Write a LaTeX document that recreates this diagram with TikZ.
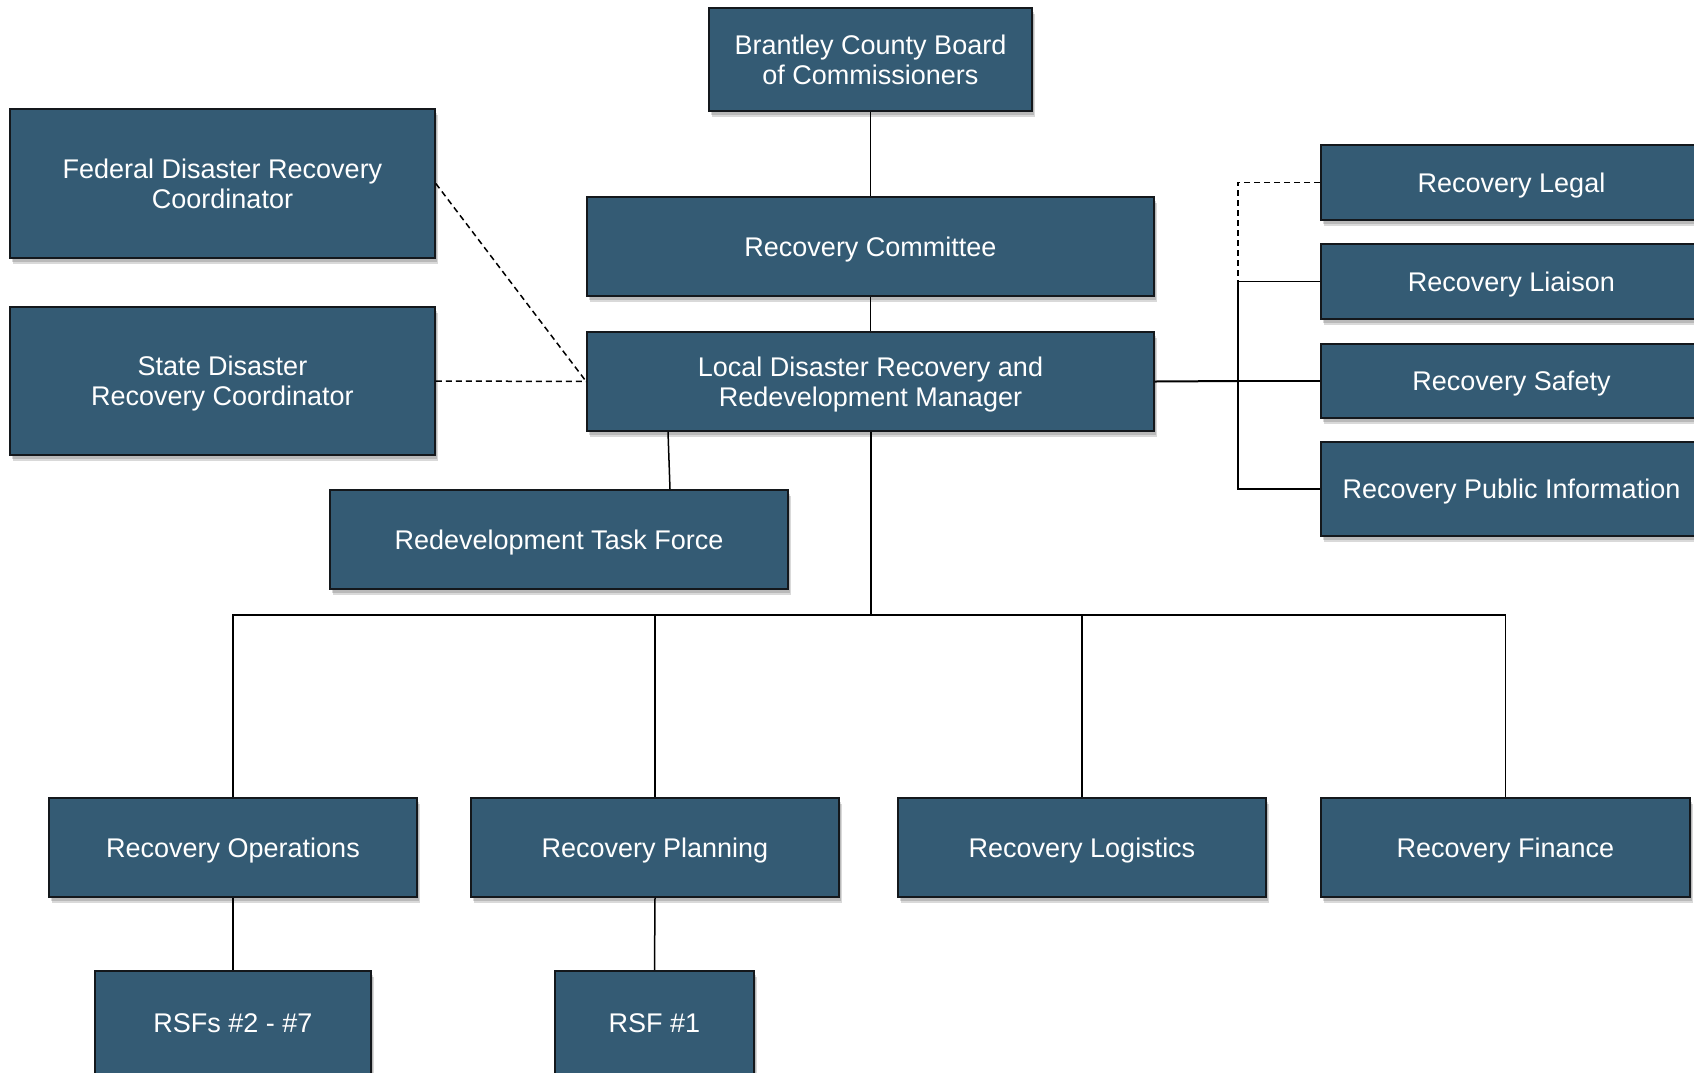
\documentclass[tikz,border=0pt]{standalone}
\usepackage{fontspec}
\setmainfont{Liberation Sans}
\usetikzlibrary{shadows}
\definecolor{boxfill}{RGB}{52,91,116}
\definecolor{boxline}{RGB}{20,24,28}
\begin{document}
\begin{tikzpicture}[x=1pt,y=-1pt,
  orgbox/.style={rectangle, draw=boxline, line width=1.6pt, fill=boxfill,
    text=white, align=center, inner sep=0pt, text depth=0pt,
    font=\fontsize{27}{30}\selectfont,
    drop shadow={shadow xshift=2.5pt, shadow yshift=-6pt, fill=black, opacity=0.15},
    drop shadow={shadow xshift=1.5pt, shadow yshift=-4pt, fill=black, opacity=0.15}},
  link/.style={draw=black, line width=1.5pt},
  dlink/.style={draw=black, line width=1.5pt, dash pattern=on 6pt off 4pt}]
\useasboundingbox (0,0) rectangle (1694,1072);
\clip (0,0) rectangle (1694,1072);
% nodes
\node[orgbox, minimum width=323, minimum height=103] (brant) at (870.5,59.5) {Brantley County Board\\of Commissioners};
\node[orgbox, minimum width=567, minimum height=99] (comm) at (870.5,246.5) {Recovery Committee};
\node[orgbox, minimum width=567, minimum height=99] (local) at (870.5,381.5) {Local Disaster Recovery and\\Redevelopment Manager};
\node[orgbox, minimum width=425, minimum height=149] (fed) at (222.5,183.5) {Federal Disaster Recovery\\Coordinator};
\node[orgbox, minimum width=425, minimum height=148] (state) at (222.5,381) {State Disaster\\Recovery Coordinator};
\node[orgbox, minimum width=458, minimum height=99] (task) at (559,539.5) {Redevelopment Task Force};
\node[orgbox, minimum width=381, minimum height=75] (legal) at (1511.5,182.5) {Recovery Legal};
\node[orgbox, minimum width=381, minimum height=75] (liaison) at (1511.5,281.5) {Recovery Liaison};
\node[orgbox, minimum width=381, minimum height=74] (safety) at (1511.5,381) {Recovery Safety};
\node[orgbox, minimum width=381, minimum height=94] (pubinfo) at (1511.5,489) {Recovery Public Information};
\node[orgbox, minimum width=368, minimum height=99] (ops) at (233,847.5) {Recovery Operations};
\node[orgbox, minimum width=368, minimum height=99] (plan) at (655,847.5) {Recovery Planning};
\node[orgbox, minimum width=368, minimum height=99] (logi) at (1082,847.5) {Recovery Logistics};
\node[orgbox, minimum width=369, minimum height=99] (fin) at (1505.5,847.5) {Recovery Finance};
\node[orgbox, minimum width=276, minimum height=104] (rsfs) at (233,1023) {RSFs \#2 - \#7};
\node[orgbox, minimum width=199, minimum height=104] (rsf1) at (654.5,1023) {RSF \#1};
% coordinates
\coordinate (bus) at (870.5,615);
\coordinate (rb) at (1238,381);
% connectors
\draw[link] (brant.south) -- (comm.north);
\draw[link] (comm.south) -- (local.north);
\draw[link] ([xshift=-202.5pt]local.south) -- ([xshift=111pt]task.north);
\draw[link, line width=2pt] (local.south) -- (bus);
\draw[link] (ops.north) |- (bus) -| (fin.north);
\draw[link] (plan.north) -- (plan.north |- bus);
\draw[link] (logi.north) -- (logi.north |- bus);
\draw[link] (ops.south) -- (rsfs.north);
\draw[link] (plan.south) -- (rsf1.north);
\draw[link, line width=2pt] (local.east) -- (rb);
\draw[link] (rb) -- (safety.west);
\draw[link] (liaison.west) -| (rb |- pubinfo.west) -- (pubinfo.west);
\draw[dlink] (legal.west) -| (rb |- liaison.west);
\draw[dlink] (fed.east) -- (local.west);
\draw[dlink] (state.east) -- (local.west);
\end{tikzpicture}
\end{document}
